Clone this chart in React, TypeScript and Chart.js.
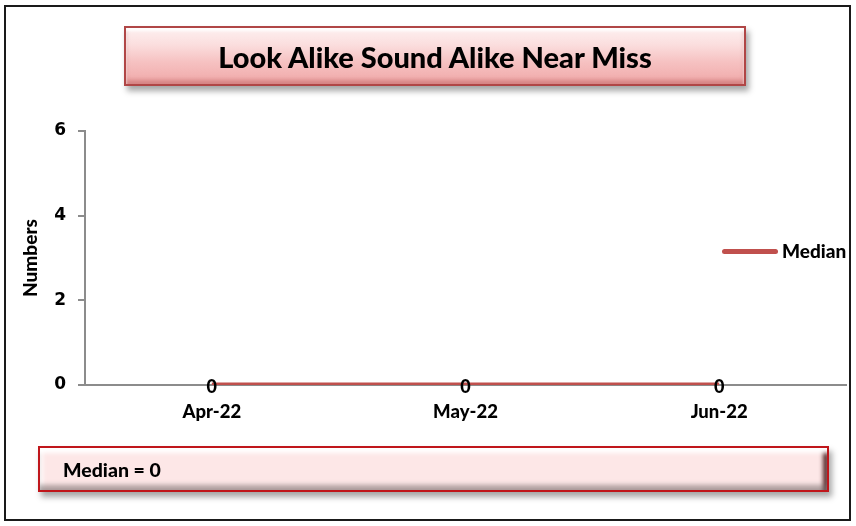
import React, { useEffect, useRef } from "react";
import { Chart, registerables } from "chart.js";

Chart.register(...registerables);

const categories = ["Apr-22", "May-22", "Jun-22"];
const medianValues = [0, 0, 0];
const yTicks = [0, 2, 4, 6];
const seriesName = "Median";
const chartTitle = "Look Alike Sound Alike Near Miss";
const yAxisTitle = "Numbers";
const medianNote = "Median = 0";

const LINE_COLOR = "#c0504d";

export default function App() {
  const ref = useRef<HTMLCanvasElement | null>(null);

  useEffect(() => {
    document.body.style.margin = "0";
    const canvas = ref.current;
    if (!canvas) return;

    const labelPlugin = {
      id: "pointLabels",
      afterDatasetsDraw(chart: any) {
        const ctx = chart.ctx;
        const meta = chart.getDatasetMeta(0);
        ctx.save();
        ctx.font = "900 18px Lato";
        ctx.fillStyle = "#000";
        ctx.textAlign = "center";
        ctx.textBaseline = "middle";
        meta.data.forEach((pt: any, i: number) => {
          ctx.fillText(String(medianValues[i]), pt.x, pt.y + 2);
        });
        ctx.restore();
      },
    };

    const chart = new Chart(canvas, {
      type: "line",
      data: {
        labels: categories,
        datasets: [
          {
            label: seriesName,
            data: medianValues,
            borderColor: LINE_COLOR,
            backgroundColor: LINE_COLOR,
            borderWidth: 5,
            pointRadius: 0,
            tension: 0,
          },
        ],
      },
      options: {
        animation: false,
        responsive: false,
        maintainAspectRatio: false,
        layout: { padding: { left: 0, right: 10, top: 131, bottom: 0 } },
        plugins: {
          legend: { display: false },
          tooltip: { enabled: false },
          title: { display: false },
        },
        scales: {
          x: {
            type: "category",
            offset: true,
            grid: { display: false, drawTicks: false },
            border: { display: true, color: "#8c8c8c", width: 2 },
            ticks: {
              color: "#000",
              font: { family: "Lato", weight: "900", size: 18.5 },
              padding: 16,
            },
            afterFit: (s: any) => {
              s.height = 526 - 385;
            },
          },
          y: {
            min: 0,
            max: 6,
            afterBuildTicks: (s: any) => {
              s.ticks = yTicks.map((v) => ({ value: v }));
            },
            grid: {
              drawOnChartArea: false,
              drawTicks: true,
              tickLength: 7,
              color: "#8c8c8c",
              lineWidth: 2,
            },
            border: { display: true, color: "#8c8c8c", width: 2 },
            ticks: {
              color: "#000",
              font: { family: "DejaVu Sans", weight: "bold", size: 17 },
              padding: 12,
            },
            title: {
              display: true,
              text: yAxisTitle,
              color: "#000",
              font: { family: "Lato", weight: "900", size: 19 },
              padding: { top: 19, bottom: 0 },
            },
            afterFit: (s: any) => {
              s.width = 85;
            },
          },
        },
      },
      plugins: [labelPlugin],
    });

    return () => chart.destroy();
  }, []);

  return (
    <div
      style={{
        position: "relative",
        width: 856,
        height: 526,
        background: "#fff",
        overflow: "hidden",
      }}
    >
      <canvas
        ref={ref}
        width={856}
        height={526}
        style={{ position: "absolute", left: 0, top: 0, width: 856, height: 526 }}
      />
      <div
        style={{
          position: "absolute",
          left: 4,
          top: 5,
          width: 847,
          height: 516,
          border: "2px solid #1a1a1a",
          boxSizing: "border-box",
          pointerEvents: "none",
        }}
      />
      <div
        style={{
          position: "absolute",
          left: 124,
          top: 26,
          width: 622,
          height: 60,
          boxSizing: "border-box",
          border: "2px solid #b04646",
          background:
            "linear-gradient(to bottom, #fdf0f0 0%, #fbdede 30%, #f6c2c2 60%, #f0a8a8 100%)",
          boxShadow:
            "3px 5px 6px rgba(0,0,0,0.35), inset 0 3px 3px rgba(255,255,255,0.9), inset 0 -4px 4px rgba(160,60,60,0.35)",
          display: "flex",
          alignItems: "center",
          justifyContent: "center",
          fontFamily: "Lato, sans-serif",
          fontWeight: 900,
          fontSize: 29,
          color: "#000",
        }}
      >
        {chartTitle}
      </div>
      <div
        style={{
          position: "absolute",
          left: 722,
          top: 248.5,
          width: 56,
          height: 5,
          borderRadius: 3,
          background: LINE_COLOR,
        }}
      />
      <div
        style={{
          position: "absolute",
          left: 782,
          top: 239,
          fontFamily: "Lato, sans-serif",
          fontWeight: 900,
          fontSize: 19,
          lineHeight: "24px",
          color: "#000",
        }}
      >
        {seriesName}
      </div>
      <div
        style={{
          position: "absolute",
          left: 38,
          top: 446,
          width: 791,
          height: 46,
          boxSizing: "border-box",
          border: "2px solid #c0161b",
          background: "#fde7e7",
          boxShadow:
            "3px 5px 6px rgba(0,0,0,0.35), inset 0 7px 4px -2px #ffffff, inset 0 -7px 5px -2px rgba(110,100,100,0.55), inset -7px 0 4px -3px rgba(60,10,10,0.85), inset 6px 0 4px -3px rgba(255,255,255,0.9)",
          display: "flex",
          alignItems: "center",
          paddingLeft: 23,
          fontFamily: "Lato, sans-serif",
          fontWeight: 900,
          fontSize: 19.5,
          color: "#000",
        }}
      >
        {medianNote}
      </div>
    </div>
  );
}
